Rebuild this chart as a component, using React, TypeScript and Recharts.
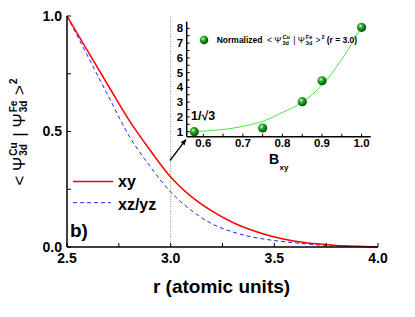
import React from 'react';
import { LineChart, Line, XAxis, YAxis, ReferenceLine, ComposedChart, Scatter } from 'recharts';

// main panel: overlap vs. distance r
const rValues = [2.5, 2.6, 2.7, 2.8, 2.9, 3.0, 3.1, 3.2, 3.3, 3.4, 3.5, 3.6, 3.7, 3.8, 3.9, 4.0];
const xyValues = [1.0, 0.848, 0.697, 0.548, 0.42, 0.303, 0.218, 0.155, 0.106, 0.07, 0.043, 0.025, 0.014, 0.007, 0.003, 0.0];
const xzyzValues = [1.0, 0.826, 0.652, 0.48, 0.35, 0.238, 0.158, 0.1, 0.065, 0.042, 0.028, 0.018, 0.01, 0.005, 0.002, 0.0];

const mainXTicks = [2.5, 2.75, 3.0, 3.25, 3.5, 3.75, 4.0];
const mainXLabels = [2.5, 3.0, 3.5, 4.0];
const mainYTicks = [0, 0.25, 0.5, 0.75, 1.0];
const mainYLabels = [0, 0.5, 1.0];

// inset: normalized overlap vs B_xy
const bxyPoints = [0.577, 0.75, 0.85, 0.9, 1.0];
const normPoints = [1.0, 1.25, 3.03, 4.45, 8.07];
const fitB = [0.577, 0.6, 0.65, 0.7, 0.75, 0.8, 0.85, 0.9, 0.95, 1.0];
const fitValues = [1.0, 1.04, 1.15, 1.36, 1.7, 2.3, 3.0, 4.15, 5.9, 8.1];

const insetXTicks = [0.6, 0.65, 0.7, 0.75, 0.8, 0.85, 0.9, 0.95, 1.0];
const insetXLabels = [0.6, 0.7, 0.8, 0.9, 1.0];
const insetYTicks = [1, 1.5, 2, 2.5, 3, 3.5, 4, 4.5, 5, 5.5, 6, 6.5, 7, 7.5, 8];
const insetYLabels = [1, 2, 3, 4, 5, 6, 7, 8];

const mainData = rValues.map((r, i) => ({ r, xy: xyValues[i], xzyz: xzyzValues[i] }));
const fitData = fitB.map((b, i) => ({ b, v: fitValues[i] }));
const pointData = bxyPoints.map((b, i) => ({ b, v: normPoints[i] }));

const FONT = 'Arial, "Liberation Sans", Helvetica, sans-serif';
const has = (arr: number[], v: number) => arr.some((a) => Math.abs(a - v) < 1e-6);
const Blank = () => <g />;

const MainXTick = ({ x, y, payload }: any) =>
  has(mainXLabels, payload.value) ? (
    <text x={x} y={y} dy="0.71em" textAnchor="middle" fontSize={14} fontWeight="bold" fontFamily={FONT} fill="#000">
      {payload.value.toFixed(1)}
    </text>
  ) : <g />;

const MainYTick = ({ x, y, payload }: any) =>
  has(mainYLabels, payload.value) ? (
    <text x={x} y={y} dy="0.355em" textAnchor="end" fontSize={14} fontWeight="bold" fontFamily={FONT} fill="#000">
      {payload.value.toFixed(1)}
    </text>
  ) : <g />;

const InsetXTick = ({ x, y, payload }: any) =>
  has(insetXLabels, payload.value) ? (
    <text x={x} y={y} dy="0.71em" textAnchor="middle" fontSize={11.5} fontWeight="bold" fontFamily={FONT} fill="#000">
      {payload.value.toFixed(1)}
    </text>
  ) : <g />;

const InsetYTick = ({ x, y, payload }: any) =>
  has(insetYLabels, payload.value) ? (
    <text x={x} y={y} dy="0.355em" textAnchor="end" fontSize={11.5} fontWeight="bold" fontFamily={FONT} fill="#000">
      {payload.value}
    </text>
  ) : <g />;

const Ball = ({ cx, cy }: any) => <circle cx={cx} cy={cy} r={4.6} fill="url(#ball)" />;

const Stack = ({ top, bottom, size }: { top: string; bottom: string; size: number }) => (
  <span style={{ display: 'inline-flex', flexDirection: 'column', lineHeight: 1, fontSize: size, fontWeight: 'bold', margin: '0 1px' }}>
    <span>{top}</span>
    <span>{bottom}</span>
  </span>
);

const Overlap = ({ sub, sup2 }: { sub: number; sup2: number }) => (
  <>
    <span>&lt;&nbsp;</span>
    <span>Ψ</span>
    <Stack top="Cu" bottom="3d" size={sub} />
    <span>&nbsp;|&nbsp;</span>
    <span>Ψ</span>
    <Stack top="Fe" bottom="3d" size={sub} />
    <span>&nbsp;&gt;</span>
    <span style={{ fontSize: sup2, fontWeight: 'bold', alignSelf: 'flex-start', marginLeft: 1 }}>2</span>
  </>
);

const axisLine = { stroke: '#000', strokeWidth: 1.5 };
const tickLine = { stroke: '#000', strokeWidth: 1 };

export default function App() {
  return (
    <div style={{ position: 'absolute', left: 0, top: 0, width: 415, height: 317, background: '#fff', fontFamily: FONT }}>
      <div style={{ position: 'absolute', left: 0, top: 0 }}>
        <LineChart width={415} height={317} data={mainData} margin={{ top: 16, right: 37, bottom: 0, left: 0 }}>
          <XAxis dataKey="r" type="number" domain={[2.5, 4.0]} ticks={mainXTicks} interval={0}
            tick={MainXTick} tickSize={-4} tickMargin={10} height={70} axisLine={axisLine} tickLine={tickLine} />
          <XAxis xAxisId="top" orientation="top" type="number" domain={[2.5, 4.0]} ticks={mainXTicks} interval={0}
            tick={Blank} tickSize={-4} height={0} axisLine={axisLine} tickLine={tickLine} />
          <YAxis type="number" domain={[0, 1]} ticks={mainYTicks} interval={0} width={67}
            tick={MainYTick} tickSize={-4} tickMargin={9} axisLine={axisLine} tickLine={tickLine} />
          <YAxis yAxisId="right" orientation="right" type="number" domain={[0, 1]} ticks={mainYTicks} interval={0} width={0}
            tick={Blank} tickSize={-4} axisLine={axisLine} tickLine={tickLine} />
          <ReferenceLine x={3.0} stroke="#888" strokeWidth={1} strokeDasharray="1 1.5" />
          <Line dataKey="xzyz" type="monotone" stroke="#2020ff" strokeWidth={1} strokeDasharray="4 3" dot={false} isAnimationActive={false} />
          <Line dataKey="xy" type="monotone" stroke="#ff0000" strokeWidth={1.5} dot={false} isAnimationActive={false} />
        </LineChart>
      </div>

      <div style={{ position: 'absolute', left: 150, top: 10 }}>
        <ComposedChart width={230} height={160} margin={{ top: 11.7, right: 9.3, bottom: 0, left: 0 }}>
          <defs>
            <radialGradient id="ball" cx="38%" cy="35%" r="65%">
              <stop offset="0%" stopColor="#d8ffd8" />
              <stop offset="35%" stopColor="#2fb02f" />
              <stop offset="100%" stopColor="#004a00" />
            </radialGradient>
          </defs>
          <XAxis dataKey="b" type="number" domain={[0.558, 1.023]} ticks={insetXTicks} interval={0} allowDataOverflow
            tick={InsetXTick} tickSize={-3} tickMargin={5} height={33.3} axisLine={axisLine} tickLine={tickLine} />
          <XAxis xAxisId="top" orientation="top" type="number" domain={[0.558, 1.023]} ticks={insetXTicks} interval={0} allowDataOverflow
            tick={Blank} tickSize={-3} height={0} axisLine={axisLine} tickLine={tickLine} />
          <YAxis dataKey="v" type="number" domain={[0.66, 8.45]} ticks={insetYTicks} interval={0} width={36.7} allowDataOverflow
            tick={InsetYTick} tickSize={-3} tickMargin={6.5} axisLine={axisLine} tickLine={tickLine} />
          <YAxis yAxisId="right" orientation="right" type="number" domain={[0.66, 8.45]} ticks={insetYTicks} interval={0} width={0} allowDataOverflow
            tick={Blank} tickSize={-3} axisLine={axisLine} tickLine={tickLine} />
          <Line data={fitData} dataKey="v" type="monotone" stroke="#44e844" strokeWidth={1} dot={false} isAnimationActive={false} />
          <Scatter data={pointData} dataKey="v" shape={Ball} isAnimationActive={false} />
        </ComposedChart>
      </div>

      <svg width={415} height={317} style={{ position: 'absolute', left: 0, top: 0, pointerEvents: 'none' }}>
        <defs>
          <radialGradient id="ballLegend" cx="38%" cy="35%" r="65%">
            <stop offset="0%" stopColor="#d8ffd8" />
            <stop offset="35%" stopColor="#2fb02f" />
            <stop offset="100%" stopColor="#004a00" />
          </radialGradient>
        </defs>
        {/* legend */}
        <line x1={73} y1={181.5} x2={113} y2={181.5} stroke="#ff0000" strokeWidth={1.5} />
        <text x={118} y={186.5} fontSize={16} fontWeight="bold" fontFamily={FONT}>xy</text>
        <line x1={73} y1={202.7} x2={111} y2={202.7} stroke="#2020ff" strokeWidth={1} strokeDasharray="4 3" />
        <text x={118} y={210} fontSize={16} fontWeight="bold" fontFamily={FONT}>xz/yz</text>
        <text x={70} y={237} fontSize={19} fontWeight="bold" fontFamily={FONT}>b)</text>
        <text x={221.5} y={292.5} textAnchor="middle" fontSize={19} fontWeight="bold" fontFamily={FONT}>r (atomic units)</text>

        {/* inset texts */}
        <text x={269} y={164} fontSize={14} fontWeight="bold" fontFamily={FONT}>B</text>
        <text x={279.5} y={169.5} fontSize={8} fontWeight="bold" fontFamily={FONT}>xy</text>
        <text x={191} y={119.5} fontSize={12.5} fontWeight="bold" fontFamily={FONT}>1/√3</text>
        <circle cx={204} cy={40} r={4.3} fill="url(#ballLegend)" />
        <text x={216.7} y={43} fontSize={8.5} fontWeight="bold" fontFamily={FONT}>Normalized</text>

        {/* arrow */}
        <line x1={170} y1={160.5} x2={183} y2={143.3} stroke="#000" strokeWidth={1.3} />
        <polygon points="186.5,138.8 180.6,142.2 184.6,145.2" fill="#000" />
      </svg>

      <div style={{ position: 'absolute', left: 267, top: 40, transform: 'translateY(-50%)', display: 'flex', alignItems: 'center', fontSize: 8.5, lineHeight: 1, whiteSpace: 'nowrap' }}>
        <Overlap sub={5.5} sup2={5.5} />
        <span style={{ fontWeight: 'bold', marginLeft: 2 }}>(r = 3.0)</span>
      </div>

      <div style={{ position: 'absolute', left: 19, top: 132, transform: 'translate(-50%, -50%) rotate(-90deg)', display: 'flex', alignItems: 'center', fontSize: 17, lineHeight: 1, whiteSpace: 'nowrap' }}>
        <Overlap sub={10} sup2={10} />
      </div>
    </div>
  );
}
